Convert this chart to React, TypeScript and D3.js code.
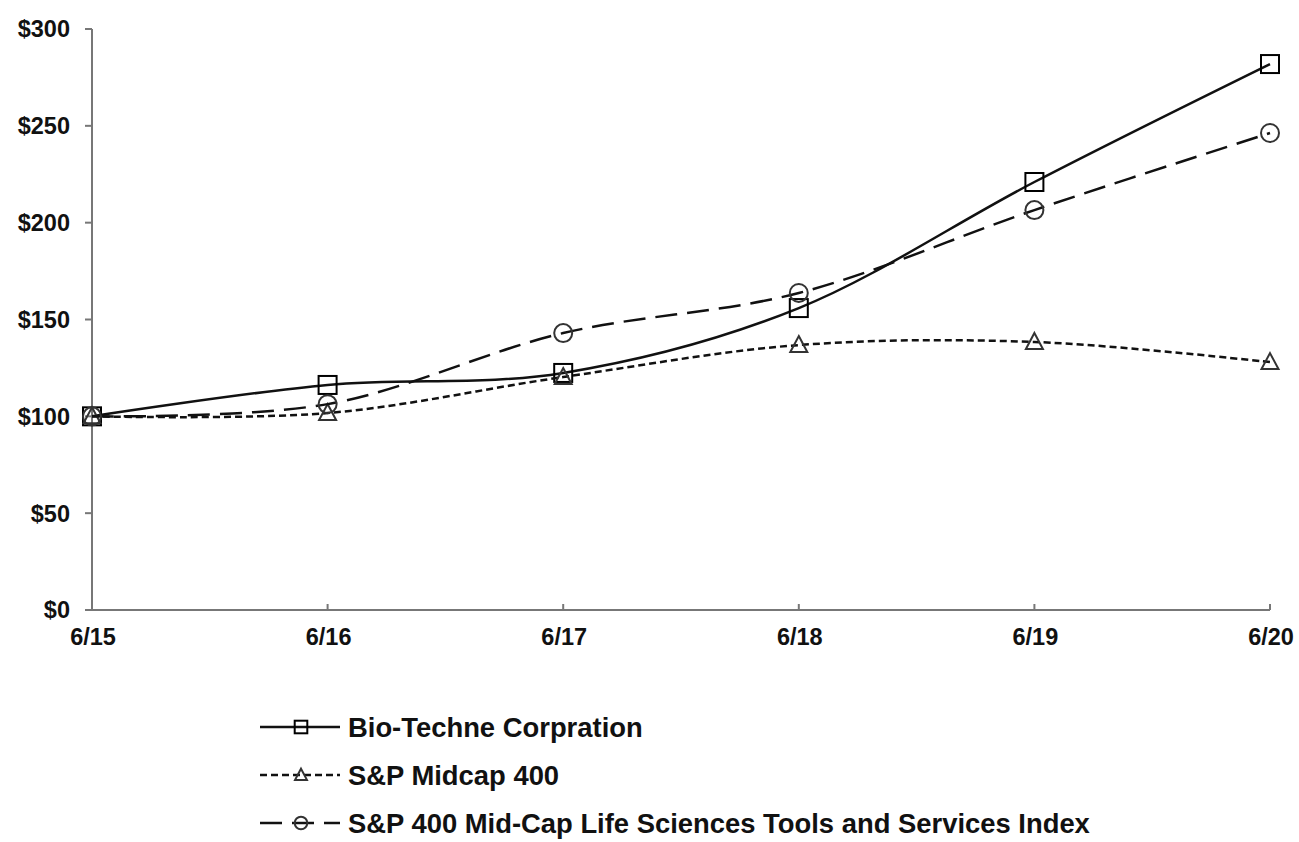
import React from "react";
import * as d3 from "d3";

const categories = ["6/15", "6/16", "6/17", "6/18", "6/19", "6/20"];
const bioTechne = [100, 116.2, 122.4, 155.9, 221, 281.9];
const spMidcap = [100, 101.7, 120.3, 136.8, 138.4, 128];
const lifeSciences = [100, 106.3, 143, 163.7, 206.5, 246.3];
const yTicks = [0, 50, 100, 150, 200, 250, 300];

const seriesNames = [
  "Bio-Techne Corpration",
  "S&P Midcap 400",
  "S&P 400 Mid-Cap Life Sciences Tools and Services Index",
];

const W = 1299;
const H = 842;
const FONT = "'Liberation Sans', Arial, sans-serif";

export default function App() {
  const x = d3.scalePoint<string>().domain(categories).range([92, 1270]);
  const y = d3.scaleLinear().domain([0, 300]).range([610, 29]);

  const line = d3
    .line<number>()
    .x((_, i) => x(categories[i]) as number)
    .y((d) => y(d))
    .curve(d3.curveCardinal.tension(0));

  const series = [
    { name: seriesNames[0], data: bioTechne, dash: "none", marker: "square" },
    { name: seriesNames[1], data: spMidcap, dash: "7 4", marker: "triangle" },
    { name: seriesNames[2], data: lifeSciences, dash: "22 10", marker: "circle" },
  ];

  const marker = (type: string, cx: number, cy: number, key: string, s = 1) => {
    if (type === "square")
      return (
        <rect key={key} x={cx - 9 * s} y={cy - 9 * s} width={18 * s} height={18 * s} fill="none" stroke="#000" strokeWidth={2} />
      );
    if (type === "circle")
      return <circle key={key} cx={cx} cy={cy} r={9 * s} fill="none" stroke="#333" strokeWidth={2} />;
    const p = `M${cx},${cy - 9 * s} L${cx + 8.5 * s},${cy + 7 * s} L${cx - 8.5 * s},${cy + 7 * s} Z`;
    return <path key={key} d={p} fill="none" stroke="#333" strokeWidth={2} />;
  };

  return (
    <svg width={W} height={H} style={{ position: "absolute", left: 0, top: 0, background: "#fff" }}>
      <rect width={W} height={H} fill="#fff" />
      {/* axes */}
      <line x1={92} y1={y(300)} x2={92} y2={y(0)} stroke="#777" strokeWidth={2} />
      <line x1={92} y1={y(0)} x2={1270} y2={y(0)} stroke="#777" strokeWidth={2} />
      {yTicks.map((t) => (
        <g key={t}>
          <line x1={85} x2={92} y1={y(t)} y2={y(t)} stroke="#777" strokeWidth={2} />
          <text x={70} y={y(t)} dy="0.36em" textAnchor="end" fontFamily={FONT} fontWeight="bold" fontSize={23.5} fill="#111">
            {"$" + t}
          </text>
        </g>
      ))}
      {categories.map((c) => (
        <g key={c}>
          <line x1={x(c)} x2={x(c)} y1={y(0)} y2={y(0) - 6} stroke="#777" strokeWidth={2} />
          <text x={(x(c) as number) + 1} y={645} textAnchor="middle" fontFamily={FONT} fontWeight="bold" fontSize={23.5} fill="#111">
            {c}
          </text>
        </g>
      ))}
      {/* series */}
      {series.map((s) => (
        <g key={s.name}>
          <path d={line(s.data) || ""} fill="none" stroke="#111" strokeWidth={2.5} strokeDasharray={s.dash} />
          {s.data.map((v, i) => marker(s.marker, x(categories[i]) as number, y(v), s.name + i))}
        </g>
      ))}
      {/* legend */}
      {series.map((s, i) => {
        const ly = 727 + i * 48;
        return (
          <g key={"lg" + i}>
            <line x1={260} x2={340} y1={ly} y2={ly} stroke="#111" strokeWidth={2.5} strokeDasharray={i === 0 ? "none" : i === 1 ? "7 4" : "22 10"} />
            {marker(s.marker, 301, ly, "lgm" + i, 0.7)}
            <text x={348} y={ly} dy="0.36em" fontFamily={FONT} fontWeight="bold" fontSize={27.4} fill="#111">
              {s.name}
            </text>
          </g>
        );
      })}
    </svg>
  );
}
